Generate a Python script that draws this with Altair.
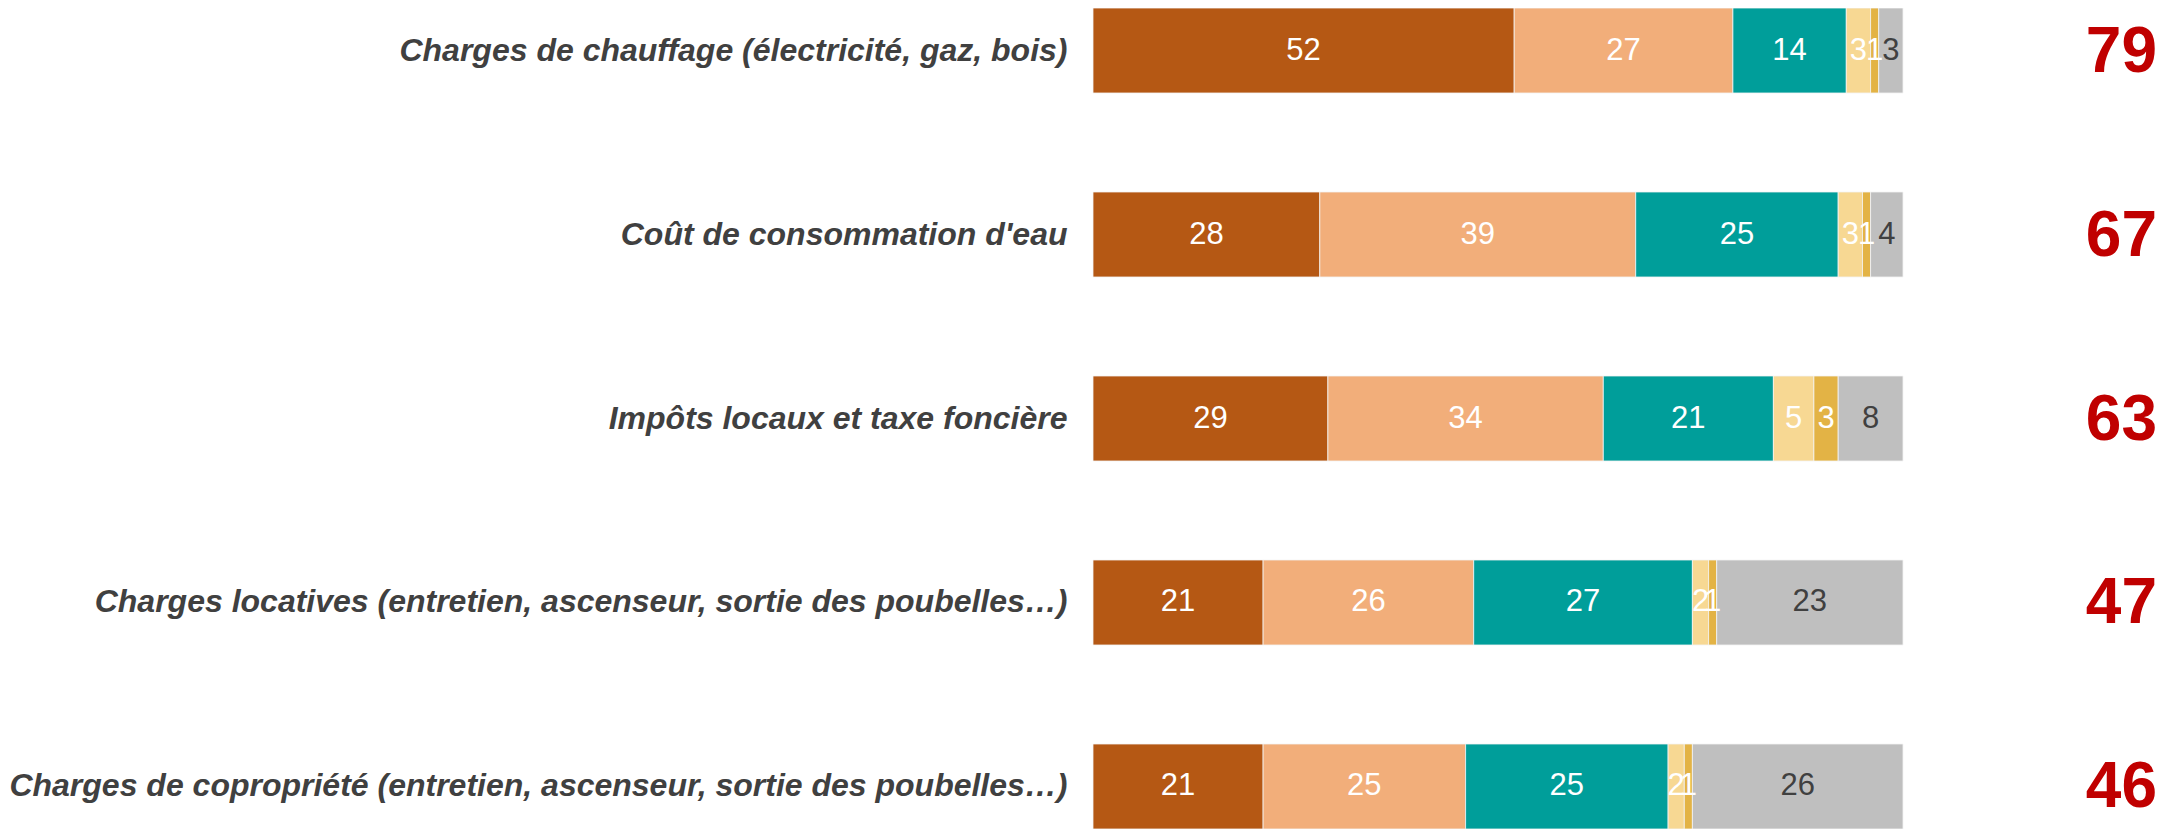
import altair as alt
import pandas as pd

categories = [
    "Charges de chauffage (électricité, gaz, bois)",
    "Coût de consommation d'eau",
    "Impôts locaux et taxe foncière",
    "Charges locatives (entretien, ascenseur, sortie des poubelles…)",
    "Charges de copropriété (entretien, ascenseur, sortie des poubelles…)",
]
segments = ["s1", "s2", "s3", "s4", "s5", "s6"]
seg_colors = ["#B55814", "#F2AE7A", "#009E9A", "#F7D893", "#E3B345", "#BFBFBF"]
seg_text_colors = ["#FFFFFF", "#FFFFFF", "#FFFFFF", "#FFFFFF", "#FFFFFF", "#404040"]

s1 = [52, 28, 29, 21, 21]
s2 = [27, 39, 34, 26, 25]
s3 = [14, 25, 21, 27, 25]
s4 = [3, 3, 5, 2, 2]
s5 = [1, 1, 3, 1, 1]
s6 = [3, 4, 8, 23, 26]
totals = [79, 67, 63, 47, 46]

series = [s1, s2, s3, s4, s5, s6]
rows = []
for ci, cat in enumerate(categories):
    for si, seg in enumerate(segments):
        rows.append({"cat": cat, "seg": seg, "order": si, "value": series[si][ci]})
df = pd.DataFrame(rows)
df_tot = pd.DataFrame({"cat": categories, "total": totals})

y_enc = alt.Y(
    "cat:N",
    sort=categories,
    scale=alt.Scale(paddingInner=0.538, paddingOuter=0),
    axis=alt.Axis(
        title=None, ticks=False, domain=False, labelPadding=26,
        labelFont="Liberation Sans", labelFontSize=32, labelFontStyle="italic",
        labelFontWeight="bold", labelColor="#404040", labelLimit=1100,
    ),
)

base = alt.Chart(df).transform_stack(
    stack="value", groupby=["cat"], as_=["x0", "x1"], sort=[alt.SortField("order")]
).transform_calculate(mid="(datum.x0 + datum.x1) / 2")

bars = base.mark_bar(stroke="#F4F4F4", strokeWidth=0.8).encode(
    x=alt.X("x0:Q", scale=alt.Scale(domain=[0, 100], nice=False, zero=True), axis=None),
    x2="x1:Q",
    y=y_enc,
    color=alt.Color("seg:N", scale=alt.Scale(domain=segments, range=seg_colors), legend=None),
)

texts = base.mark_text(
    font="Liberation Sans", fontSize=31, baseline="middle", align="center"
).encode(
    x=alt.X("mid:Q"),
    y=alt.Y("cat:N", sort=categories),
    text=alt.Text("value:Q"),
    color=alt.Color("seg:N", scale=alt.Scale(domain=segments, range=seg_text_colors), legend=None),
)

tot = alt.Chart(df_tot).mark_text(
    font="Liberation Sans", fontSize=64, fontWeight="bold", color="#C00000",
    align="right", baseline="middle", dy=2,
).encode(
    x=alt.value(1064),
    y=alt.Y("cat:N", sort=categories),
    text=alt.Text("total:Q"),
)

chart = alt.layer(bars, texts, tot).resolve_scale(color="independent").properties(
    width=810, height=821,
    padding={"left": 1085, "right": 254, "top": 0, "bottom": 0},
    autosize=alt.AutoSizeParams(type="none"),
).configure_view(stroke=None)

chart.save("out.html", embed_options={"renderer": "svg", "actions": False})
